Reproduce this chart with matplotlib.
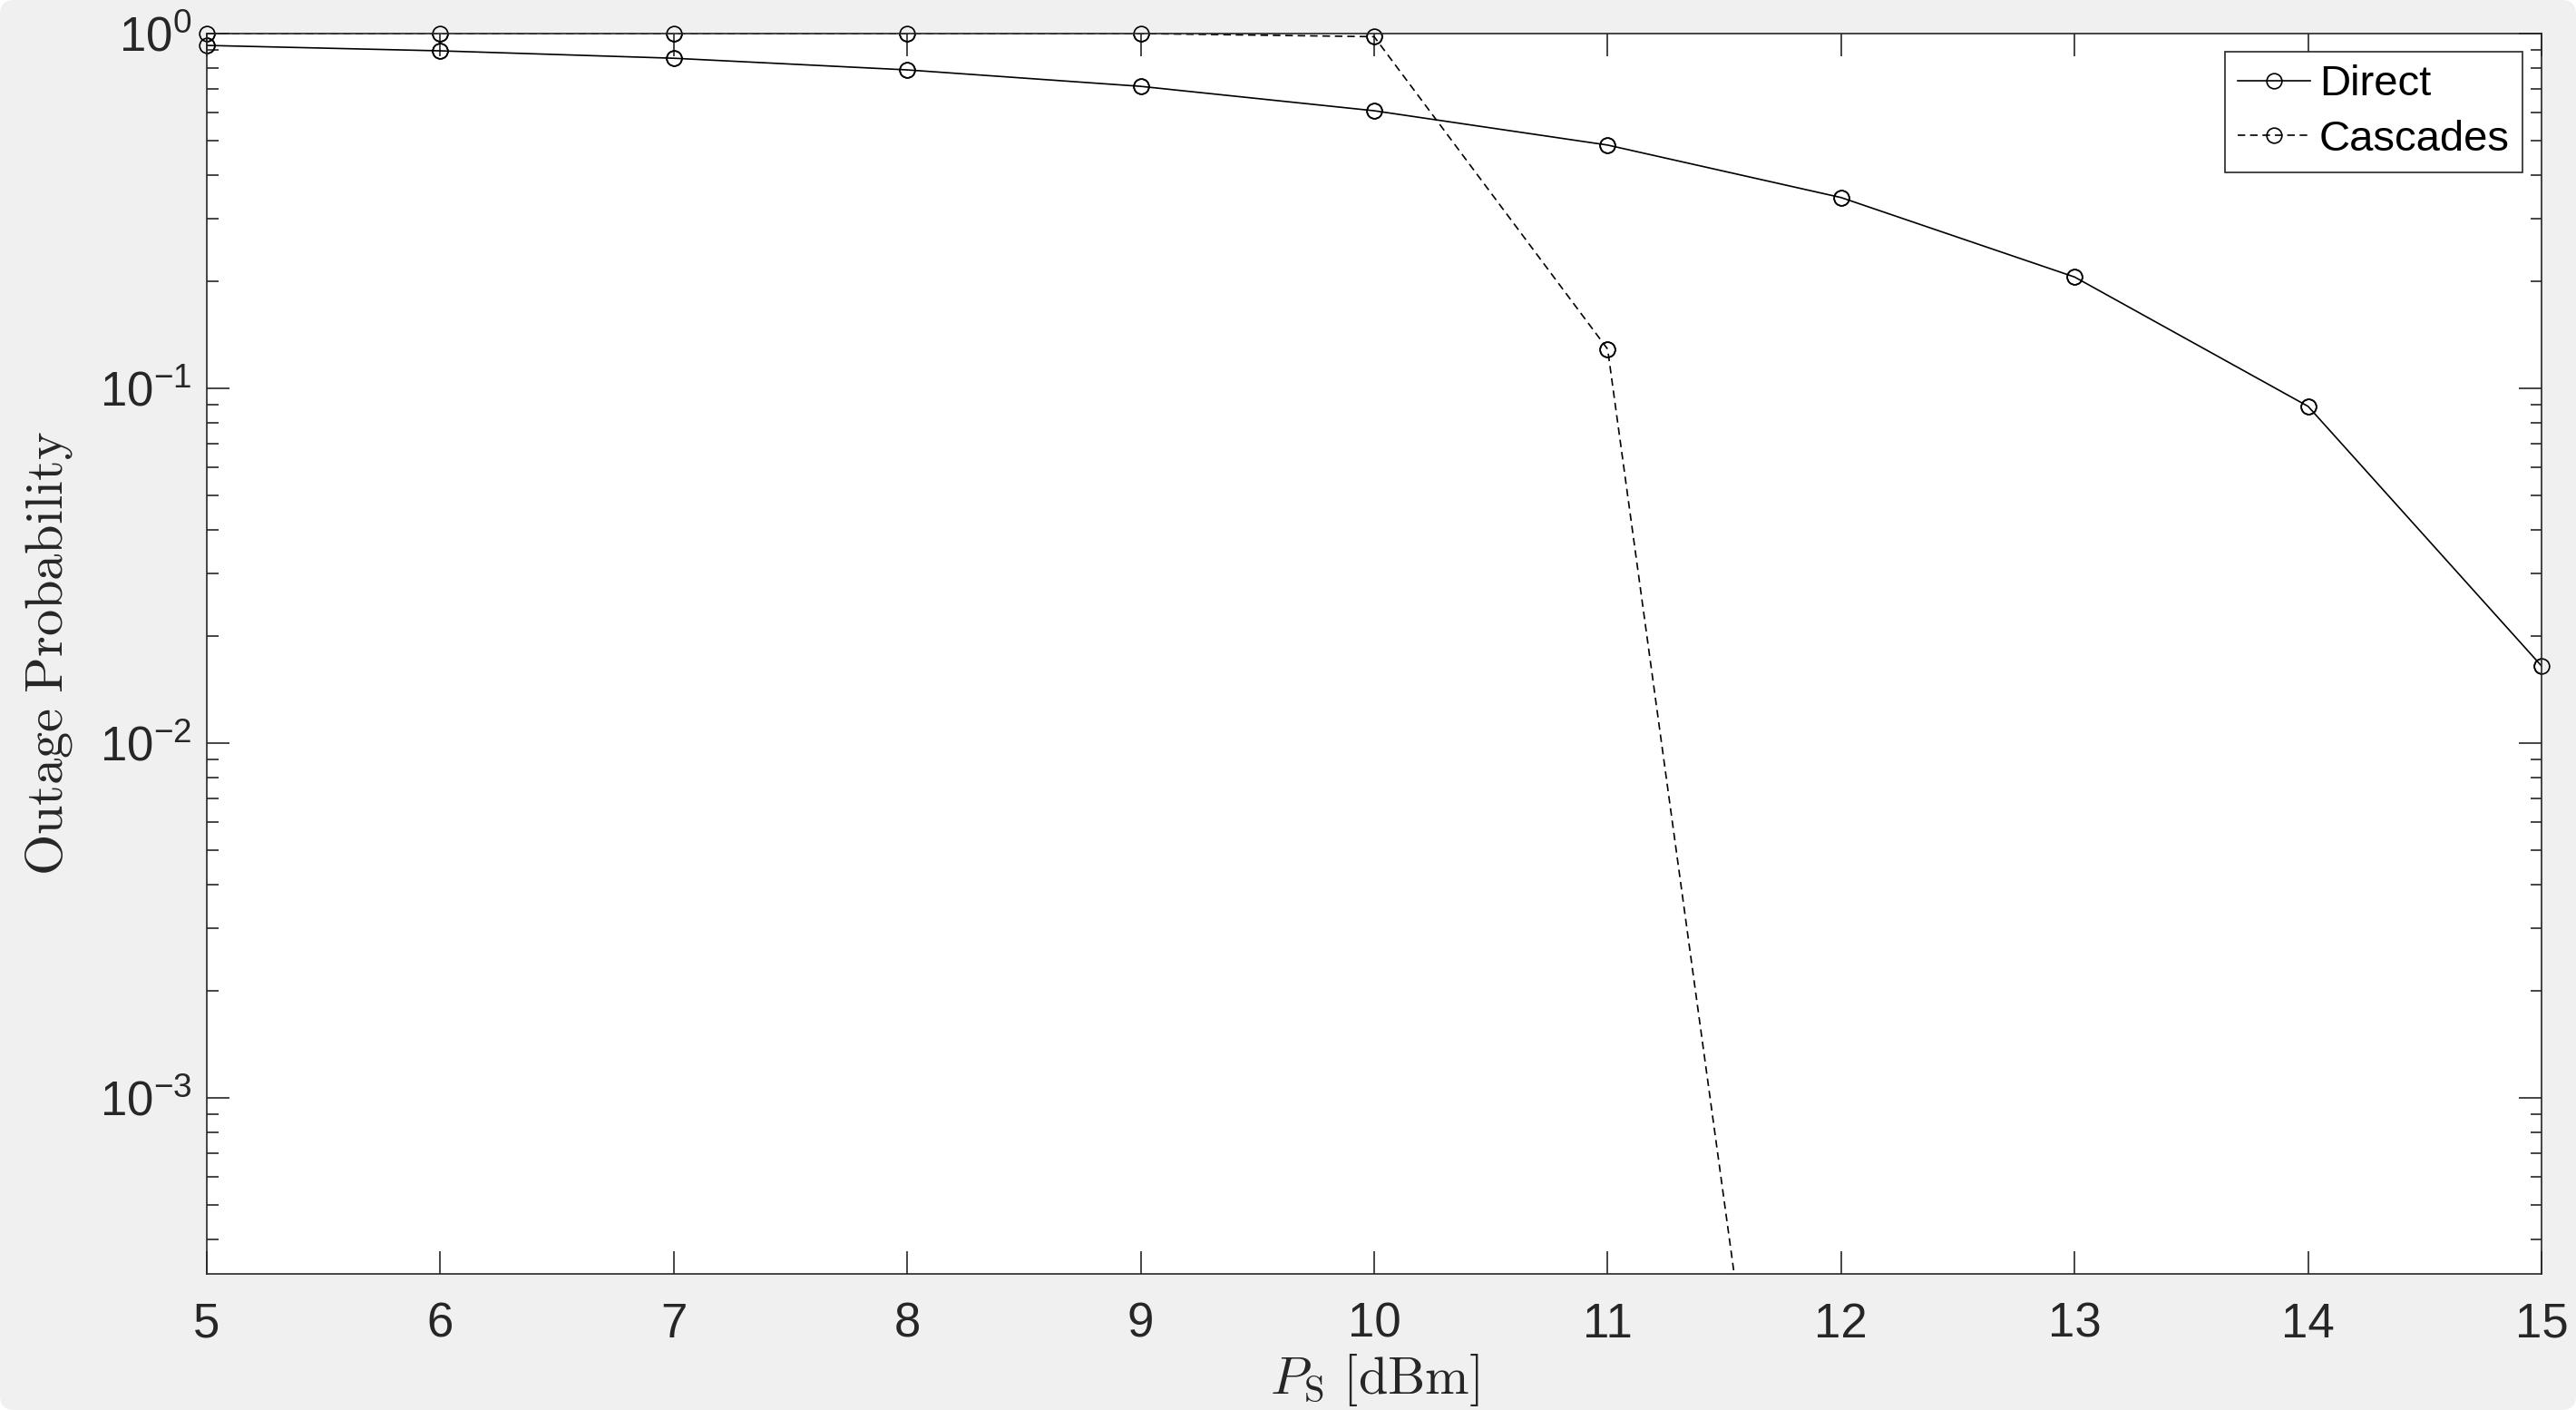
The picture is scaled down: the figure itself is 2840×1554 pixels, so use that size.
import matplotlib
matplotlib.use("Agg")
import matplotlib.pyplot as plt
from matplotlib.patches import FancyBboxPatch
from matplotlib.ticker import FixedLocator, LogLocator, NullLocator, FuncFormatter

# data
p_s = [5, 6, 7, 8, 9, 10, 11, 12, 13, 14, 15]
direct = [0.926, 0.894, 0.852, 0.790, 0.710, 0.606, 0.485, 0.345, 0.206, 0.089, 0.0165]
p_s_casc = [5, 6, 7, 8, 9, 10, 11, 12]
cascades = [1.0, 1.0, 1.0, 1.0, 1.0, 0.98, 0.129, 2.0e-6]
x_ticks = [5, 6, 7, 8, 9, 10, 11, 12, 13, 14, 15]

plt.rcParams["font.family"] = ["Liberation Sans", "DejaVu Sans"]
plt.rcParams["mathtext.fontset"] = "custom"
plt.rcParams["mathtext.rm"] = "Liberation Sans"
plt.rcParams["mathtext.it"] = "Liberation Sans:italic"
plt.rcParams["axes.unicode_minus"] = False

dark = "#262626"
W, H, DPI = 2840, 1554, 200
fig = plt.figure(figsize=(W / DPI, H / DPI), dpi=DPI)
fig.patch.set_facecolor("white")
bg = FancyBboxPatch((0, 0), W, H, boxstyle="round,pad=0,rounding_size=16",
                    transform=None, facecolor="#F0F0F0", edgecolor="none", zorder=-10)
fig.patches.append(bg)

ax = fig.add_axes([228 / W, 1 - 1404 / H, (2802 - 228) / W, (1404 - 37) / H])
ax.set_facecolor("white")

lw = 0.6
ax.plot(p_s, direct, color="black", lw=lw, marker="o", mfc="none", ms=6, mew=lw,
        label="Direct")
ax.plot(p_s_casc, cascades, color="black", lw=lw, marker="o", mfc="none", ms=6, mew=lw,
        dashes=(5, 3.2), label="Cascades")
# matlab draws markers over the box edge, so repeat them unclipped
ax.plot(p_s, direct, ls="none", marker="o", mfc="none", mec="black", ms=6, mew=lw, clip_on=False)
ax.plot(p_s_casc, cascades, ls="none", marker="o", mfc="none", mec="black", ms=6, mew=lw,
        clip_on=False)

ax.set_yscale("log")
ax.set_xlim(5, 15)
ax.set_ylim(10 ** -3.496, 1)

ax.xaxis.set_major_locator(FixedLocator(x_ticks))
ax.xaxis.set_minor_locator(NullLocator())
ax.yaxis.set_major_locator(LogLocator(base=10, numticks=10))
ax.yaxis.set_minor_locator(LogLocator(base=10, subs=range(2, 10), numticks=20))
ax.yaxis.set_major_formatter(FuncFormatter(lambda v, pos: r"$\mathregular{10^{%d}}$" % round(__import__("math").log10(v))))

ax.tick_params(which="both", direction="in", top=True, right=True, colors=dark,
               width=0.6, labelsize=19)
ax.tick_params(which="major", length=9)
ax.tick_params(which="minor", length=4.5)
ax.tick_params(axis="x", pad=11)
ax.tick_params(axis="y", pad=6)
for s in ax.spines.values():
    s.set_color(dark)
    s.set_linewidth(0.6)

ax.set_xlabel(r"$P_{\mathrm{S}}\ [\mathrm{dBm}]$", fontsize=21, color=dark,
              math_fontfamily="cm", labelpad=2)
ax.set_ylabel(r"$\mathrm{Outage\ Probability}$", fontsize=21, color=dark,
              math_fontfamily="cm", labelpad=10)

leg = ax.legend(loc="upper right", bbox_to_anchor=(0.9918, 0.9854), borderaxespad=0,
                fancybox=False, edgecolor=dark, fontsize=17, handlelength=1.7,
                handletextpad=0.2, borderpad=0.3, labelspacing=0.35, framealpha=1)
leg.get_frame().set_linewidth(0.6)

fig.savefig("out.png", dpi=DPI, facecolor=fig.get_facecolor())
